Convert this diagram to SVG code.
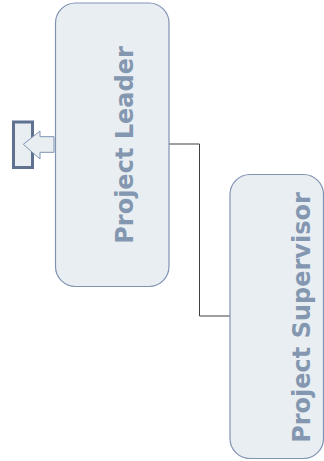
<svg xmlns="http://www.w3.org/2000/svg" width="324" height="461" viewBox="0 0 324 461">
<style>
.box{fill:#e9eef2;stroke:#8093b3;stroke-width:1.2}
.lbl{font-family:"DejaVu Sans",Verdana,sans-serif;font-weight:bold;font-size:24px;fill:#8497b0;text-anchor:middle}
.conn{fill:none;stroke:#404040;stroke-width:1}
</style>
<rect width="324" height="461" fill="#ffffff"/>
<g id="connectors">
<polyline class="conn" points="169,144 199.5,144 199.5,316 230,316"/>
</g>
<g id="node-leader">
<rect class="box" x="55.5" y="3" width="113.5" height="283.5" rx="20" ry="20"/>
<text class="lbl" transform="translate(133.3,145) rotate(-90)">Project Leader</text>
</g>
<g id="node-supervisor">
<rect class="box" x="230" y="174.5" width="93.5" height="284" rx="20" ry="20"/>
<text class="lbl" transform="translate(310,317.5) rotate(-90)">Project Supervisor</text>
</g>
<g id="node-arrow">
<rect x="13.5" y="122" width="19" height="45.5" fill="#e9eef2" stroke="#5f7391" stroke-width="3"/>
<polygon points="23.3,144.3 40,131 40,136.7 54,136.7 54,152.3 40,152.3 40,159" fill="#e9eef2" stroke="#7f93b3" stroke-width="1"/>
</g>
</svg>
